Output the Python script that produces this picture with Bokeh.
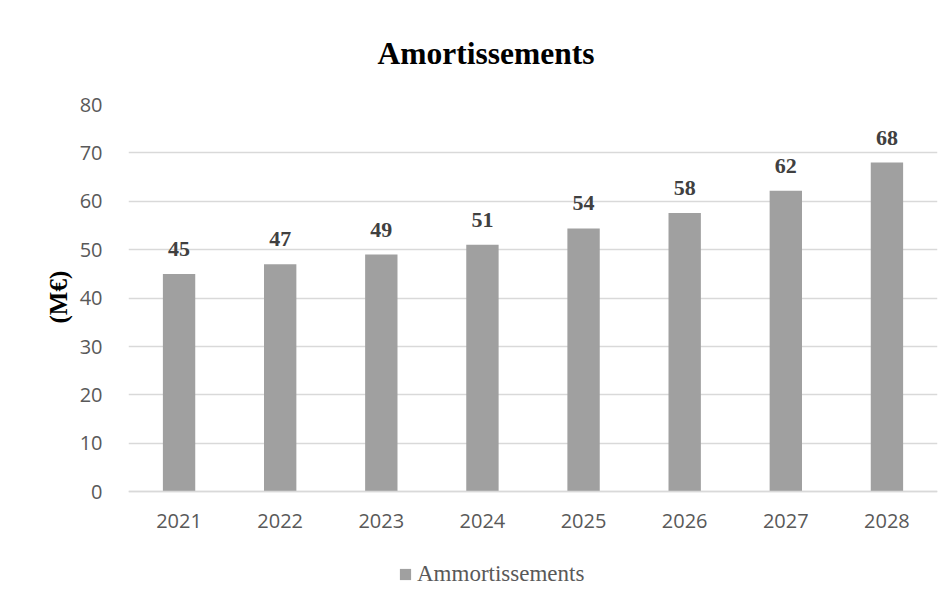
from bokeh.plotting import figure
from bokeh.models import (ColumnDataSource, FixedTicker, Legend, LegendItem, Title)
from bokeh.core.properties import value
from bokeh.embed import file_html
from bokeh.resources import INLINE

years = ["2021", "2022", "2023", "2024", "2025", "2026", "2027", "2028"]
amort = [45.0, 47.0, 49.0, 51.0, 54.4, 57.6, 62.2, 68.0]
labels = [str(int(round(v))) for v in amort]
y_ticks = [0, 10, 20, 30, 40, 50, 60, 70, 80]
title_text = "Amortissements"
legend_text = "Ammortissements"
y_label = "(M€)"

src = ColumnDataSource(dict(x=years, y=amort, lab=labels))

# frame extends below zero so the legend sits inside it; x axis fixed at y=0
p = figure(x_range=years, y_range=(-23.3, 80), width=952, height=604,
           output_backend="svg", toolbar_location=None,
           min_border_left=128, min_border_right=15, min_border_top=103,
           min_border_bottom=0)
p.outline_line_color = None
p.background_fill_color = "white"
p.border_fill_color = "white"

bars = p.vbar(x="x", top="y", width=0.32, source=src, fill_color="#a0a0a0",
              line_color=None)

p.text(x="x", y="y", text="lab", source=src, text_align="center",
       text_baseline="alphabetic", y_offset=-25,
       text_font=value("Liberation Serif"), text_font_size="22px",
       text_font_style="bold", text_color="#404040")

p.xgrid.grid_line_color = None
p.ygrid.grid_line_color = "#d9d9d9"
p.ygrid.grid_line_width = 1.5
p.yaxis.ticker = FixedTicker(ticks=y_ticks)
p.yaxis.bounds = (0, 80)
p.yaxis.axis_line_color = None
p.yaxis.major_tick_line_color = None
p.yaxis.minor_tick_line_color = None
p.yaxis.major_label_standoff = 20
p.xaxis.fixed_location = 0
p.xaxis.axis_line_color = "#d9d9d9"
p.xaxis.axis_line_width = 1.5
p.xaxis.major_tick_line_color = None
p.xaxis.major_label_standoff = 16
for ax in (p.xaxis, p.yaxis):
    ax.major_label_text_font = "Open Sans"
    ax.major_label_text_font_size = "20px"
    ax.major_label_text_color = "#595959"

# y axis title, centred on the 0..80 span of the value axis
p.add_layout(Title(text=y_label, align="left", offset=281, standoff=10,
                   text_font="Liberation Serif", text_font_size="25px",
                   text_font_style="bold", text_color="#000000"), "left")

p.title = Title(text=title_text, align="left", offset=249, standoff=67,
                text_font="Liberation Serif", text_font_size="31.5px",
                text_font_style="bold", text_color="#000000")

legend = Legend(items=[LegendItem(label=legend_text, renderers=[bars])],
                location=(270, 17), orientation="horizontal",
                border_line_color=None, background_fill_alpha=0,
                padding=0, margin=0, spacing=0, label_standoff=5,
                glyph_width=14, glyph_height=14,
                label_text_font="Liberation Serif", label_text_font_size="23px",
                label_text_color="#595959")
p.add_layout(legend, "center")

open("out.html", "w").write(file_html(p, INLINE))
